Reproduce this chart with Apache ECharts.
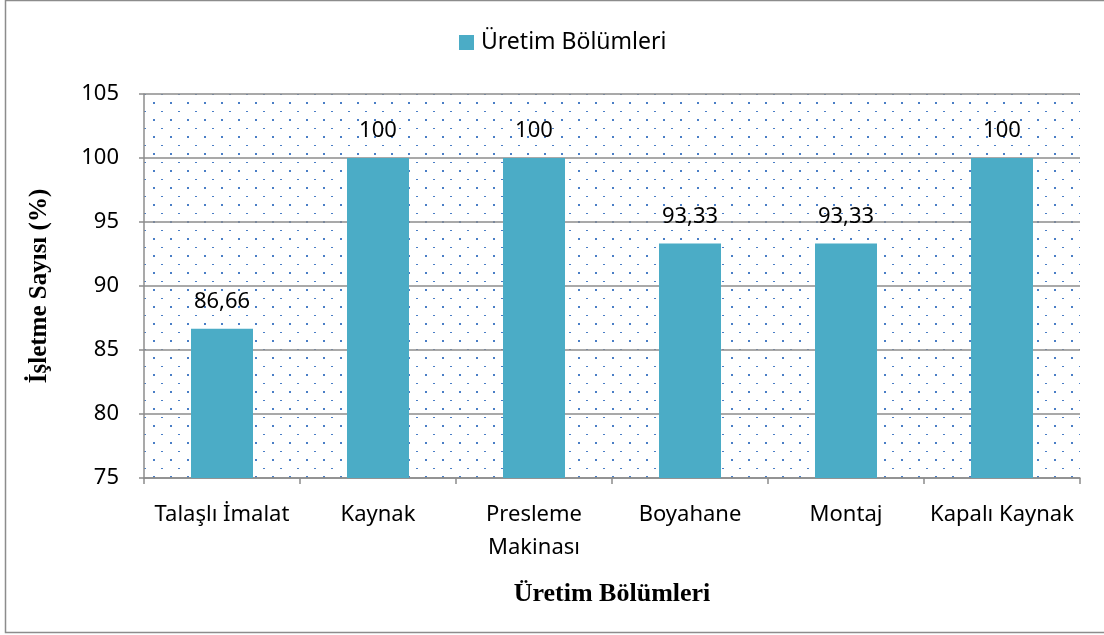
<!DOCTYPE html>
<html>
<head>
<meta charset="utf-8">
<script src="https://cdn.jsdelivr.net/npm/echarts@6/dist/echarts.min.js"></script>
<style>html,body{margin:0;padding:0;background:#fff}#c{width:1104px;height:635px}</style>
</head>
<body>
<div id="c"></div>
<script>
const categories = ['Talaşlı İmalat', 'Kaynak', 'Presleme\nMakinası', 'Boyahane', 'Montaj', 'Kapalı Kaynak'];
const values = [86.66, 100, 100, 93.33, 93.33, 100];
const valueLabels = ['86,66', '100', '100', '93,33', '93,33', '100'];
const seriesName = 'Üretim Bölümleri';
const yTitle = 'İşletme Sayısı (%)';
const xTitle = 'Üretim Bölümleri';

const tile = document.createElement('canvas');
tile.width = 17; tile.height = 17;
const tc = tile.getContext('2d');
tc.fillStyle = '#4a7ec6';
tc.fillRect(0, 0, 2, 2);
tc.fillRect(8, 9, 2, 1);

const chart = echarts.init(document.getElementById('c'), null, {renderer: 'canvas'});
const font = '"Noto Sans", "Open Sans", sans-serif';
chart.setOption({
  animation: false,
  textStyle: {fontFamily: font},
  graphic: [{
    type: 'rect', silent: true, z: 0,
    shape: {x: 5.5, y: 0.5, width: 1200, height: 632},
    style: {fill: 'none', stroke: '#8c8c8c', lineWidth: 1.5}
  }],
  legend: {
    top: 26, left: 454,
    itemWidth: 15, itemHeight: 15, itemGap: 6,
    icon: 'rect',
    textStyle: {fontSize: 23, color: '#000', fontFamily: font, padding: [0, 0, 0, 2]}
  },
  grid: {
    left: 144, right: 24, top: 94, bottom: 157,
    show: true, borderWidth: 0,
    backgroundColor: {image: tile, repeat: 'repeat'}
  },
  xAxis: {
    type: 'category',
    data: categories,
    name: xTitle,
    nameLocation: 'middle',
    nameGap: 103,
    nameTextStyle: {fontFamily: '"Liberation Serif", serif', fontWeight: 'bold', fontSize: 26, color: '#000'},
    axisLine: {lineStyle: {color: '#8c8c8c', width: 1.5}},
    axisTick: {show: true, length: 6, lineStyle: {color: '#8c8c8c', width: 1.5}},
    axisLabel: {fontSize: 22, color: '#000', margin: 20, lineHeight: 33, interval: 0}
  },
  yAxis: {
    type: 'value',
    min: 75, max: 105, interval: 5,
    name: yTitle,
    nameLocation: 'middle',
    nameGap: 92,
    nameTextStyle: {fontFamily: '"Liberation Serif", serif', fontWeight: 'bold', fontSize: 25, color: '#000'},
    axisLine: {show: true, lineStyle: {color: '#8c8c8c', width: 1.5}},
    axisTick: {show: true, length: 5, lineStyle: {color: '#8c8c8c', width: 1.5}},
    axisLabel: {fontSize: 22, color: '#000', margin: 25},
    splitLine: {lineStyle: {color: '#8c8c8c', width: 1.5}}
  },
  series: [{
    name: seriesName,
    type: 'bar',
    data: values,
    barWidth: 62,
    itemStyle: {color: '#4bacc6'},
    label: {
      show: true, position: 'top', distance: 16,
      fontSize: 22, color: '#000', fontFamily: font,
      formatter: p => valueLabels[p.dataIndex]
    }
  }]
});
</script>
</body>
</html>
